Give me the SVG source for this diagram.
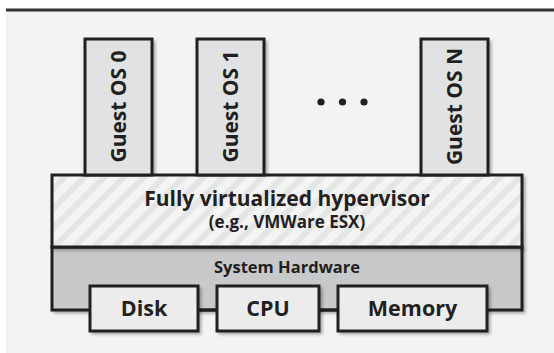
<svg xmlns="http://www.w3.org/2000/svg" width="554" height="353" viewBox="0 0 554 353">
<defs>
<pattern id="stripes" patternUnits="userSpaceOnUse" width="14" height="14" patternTransform="rotate(45)">
<rect width="14" height="14" fill="#f3f4f3"/>
<rect width="6" height="14" fill="#e4e5e5"/>
</pattern>
<filter id="blur" x="-10%" y="-10%" width="120%" height="120%">
<feGaussianBlur stdDeviation="1.5"/>
</filter>
</defs>
<style>
.box{stroke:#231f20;stroke-width:3}
.shadow{fill:#000;opacity:0.3;filter:url(#blur)}
.guest{fill:#e1e2e3}
.dev{fill:#ebeceb}
.t{font-family:"Open Sans","Liberation Sans",sans-serif;font-weight:700;fill:#231f20;text-anchor:middle}
.conn{stroke:#231f20;stroke-width:3;fill:none}
</style>
<rect x="6" y="11" width="548" height="342" fill="#f2f3f2"/>
<line x1="6" y1="10" x2="554" y2="10" stroke="#333" stroke-width="3"/>

<g id="hardware">
<rect class="shadow" x="53.5" y="248.5" width="472" height="65"/>
<rect class="box" x="52" y="247" width="470" height="63" fill="#c8c9ca"/>
<text class="t" x="287" y="273" font-size="16.5">System Hardware</text>
</g>
<g id="hypervisor">
<rect class="shadow" x="53.5" y="176.5" width="472" height="74"/>
<rect class="box" x="52" y="175" width="470" height="72" fill="url(#stripes)"/>
<text class="t" x="287" y="206" font-size="21">Fully virtualized hypervisor</text>
<text class="t" x="287" y="228" font-size="17">(e.g., VMWare ESX)</text>
</g>
<g id="guest0">
<rect class="shadow" x="86.5" y="40.5" width="69" height="134"/>
<rect class="box guest" x="85" y="39" width="67" height="136"/>
<text class="t" transform="translate(126,106.5) rotate(-90)" font-size="21">Guest OS 0</text>
</g>
<g id="guest1">
<rect class="shadow" x="198.5" y="40.5" width="69" height="134"/>
<rect class="box guest" x="197" y="39" width="67" height="136"/>
<text class="t" transform="translate(238,106.5) rotate(-90)" font-size="21">Guest OS 1</text>
</g>
<g id="guestN">
<rect class="shadow" x="422.5" y="40.5" width="69" height="134"/>
<rect class="box guest" x="421" y="39" width="67" height="136"/>
<text class="t" transform="translate(462,106.5) rotate(-90)" font-size="21">Guest OS N</text>
</g>
<g id="dots" fill="#231f20">
<circle cx="321" cy="102" r="3.6"/>
<circle cx="342.5" cy="102" r="3.6"/>
<circle cx="364" cy="102" r="3.6"/>
</g>
<g id="connectors">
<line class="conn" x1="198" y1="310" x2="217" y2="310"/>
<line class="conn" x1="319" y1="310" x2="338" y2="310"/>
</g>
<g id="disk">
<rect class="shadow" x="91.5" y="287.5" width="110" height="47"/>
<rect class="box dev" x="90" y="286" width="108" height="45"/>
<text class="t" x="144" y="316" font-size="21.5">Disk</text>
</g>
<g id="cpu">
<rect class="shadow" x="218.5" y="287.5" width="104" height="47"/>
<rect class="box dev" x="217" y="286" width="102" height="45"/>
<text class="t" x="268" y="316" font-size="21.5">CPU</text>
</g>
<g id="memory">
<rect class="shadow" x="339.5" y="287.5" width="151" height="47"/>
<rect class="box dev" x="338" y="286" width="149" height="45"/>
<text class="t" x="412.5" y="316" font-size="21.5">Memory</text>
</g>
</svg>
